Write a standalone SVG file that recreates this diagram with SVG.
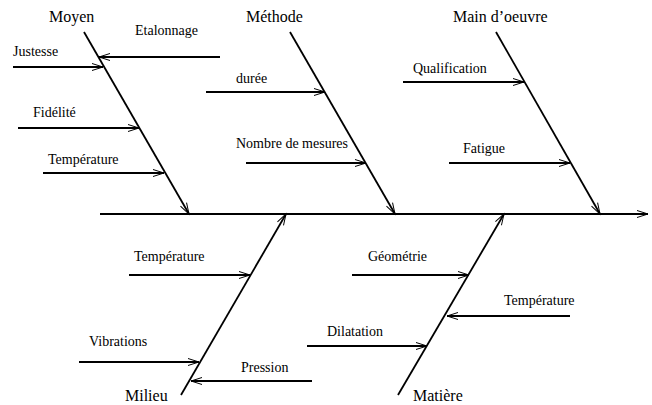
<svg xmlns="http://www.w3.org/2000/svg" width="652" height="405" viewBox="0 0 652 405">
<style>
.l{stroke:#000;stroke-width:1.8;fill:none;marker-end:url(#a)}
.t{font-family:"Liberation Serif","Times New Roman",serif;font-size:14px;fill:#000}
.c{font-family:"Liberation Serif","Times New Roman",serif;font-size:16px;fill:#000}
</style>
<defs>
<marker id="a" markerUnits="userSpaceOnUse" markerWidth="14" markerHeight="10" viewBox="-12 -5 14 10" refX="0" refY="0" orient="auto">
<path d="M-11,-3.5 L0,0 L-11,3.5" stroke="#000" stroke-width="1" fill="none"/>
</marker>
</defs>
<rect width="652" height="405" fill="#fff"/>
<g id="connectors">
<line class="l" x1="100" y1="214" x2="648" y2="214"/>
<line class="l" x1="84" y1="32" x2="189" y2="214"/>
<line class="l" x1="290" y1="32" x2="395" y2="214"/>
<line class="l" x1="496" y1="32" x2="600" y2="214"/>
<line class="l" x1="181" y1="395" x2="286" y2="214"/>
<line class="l" x1="398" y1="395" x2="504" y2="214"/>
<line class="l" x1="13" y1="67" x2="103" y2="67"/>
<line class="l" x1="220" y1="57" x2="99" y2="57"/>
<line class="l" x1="18" y1="128" x2="139" y2="128"/>
<line class="l" x1="43" y1="173" x2="164" y2="173"/>
<line class="l" x1="206" y1="92" x2="325" y2="92"/>
<line class="l" x1="246" y1="163" x2="366" y2="163"/>
<line class="l" x1="403" y1="82" x2="524" y2="82"/>
<line class="l" x1="449" y1="163" x2="570" y2="163"/>
<line class="l" x1="129" y1="275" x2="250" y2="275"/>
<line class="l" x1="79" y1="362" x2="199" y2="362"/>
<line class="l" x1="312" y1="381" x2="191" y2="381"/>
<line class="l" x1="352" y1="275" x2="469" y2="275"/>
<line class="l" x1="570" y1="316" x2="447" y2="316"/>
<line class="l" x1="307" y1="346" x2="427" y2="346"/>
</g>
<g id="moyen">
<text class="c" x="49" y="22">Moyen</text>
<text class="t" x="13" y="56">Justesse</text>
<text class="t" x="135" y="35">Etalonnage</text>
<text class="t" x="33" y="117">Fidélité</text>
<text class="t" x="48" y="164">Température</text>
</g>
<g id="methode">
<text class="c" x="246" y="22">Méthode</text>
<text class="t" x="236" y="83">durée</text>
<text class="t" x="236" y="148">Nombre de mesures</text>
</g>
<g id="main-oeuvre">
<text class="c" x="453" y="22">Main d’oeuvre</text>
<text class="t" x="413" y="73">Qualification</text>
<text class="t" x="463" y="153">Fatigue</text>
</g>
<g id="milieu">
<text class="c" x="125" y="401">Milieu</text>
<text class="t" x="134" y="261">Température</text>
<text class="t" x="89" y="346">Vibrations</text>
<text class="t" x="241" y="372">Pression</text>
</g>
<g id="matiere">
<text class="c" x="413" y="401">Matière</text>
<text class="t" x="368" y="261">Géométrie</text>
<text class="t" x="504" y="305">Température</text>
<text class="t" x="327" y="336">Dilatation</text>
</g>
</svg>
